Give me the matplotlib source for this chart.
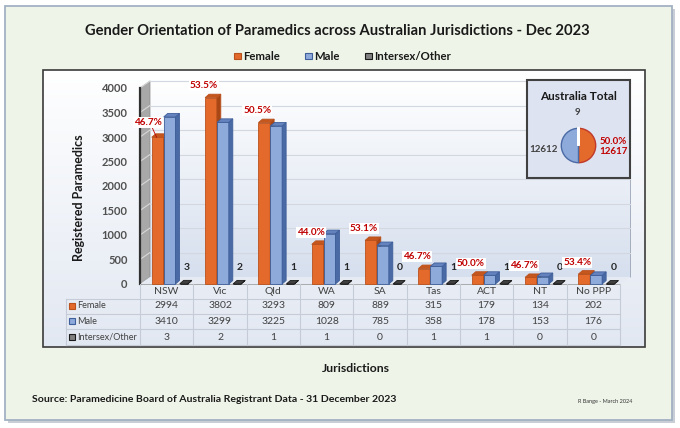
import numpy as np
import matplotlib
matplotlib.use("Agg")
import matplotlib.pyplot as plt
from matplotlib.patches import Polygon, Rectangle
from matplotlib.colors import LinearSegmentedColormap

# data
jurisdictions = ["NSW", "Vic", "Qld", "WA", "SA", "Tas", "ACT", "NT", "No PPP"]
female = [2994, 3802, 3293, 809, 889, 315, 179, 134, 202]
male = [3410, 3299, 3225, 1028, 785, 358, 178, 153, 176]
other = [3, 2, 1, 1, 0, 1, 1, 0, 0]
series_names = ["Female", "Male", "Intersex/Other"]
y_ticks = list(range(0, 4001, 500))

W, H = 680, 428
plt.rcParams["font.family"] = ["Lato", "DejaVu Sans"]

fig = plt.figure(figsize=(W / 100, H / 100), dpi=100)
fig.patch.set_facecolor("white")

# pixel overlay (origin top-left)
bg = fig.add_axes([0, 0, 1, 1], zorder=0)
bg.axis("off")


def fbox(x0, y0, x1, y1):
    return [x0 / W, 1 - y1 / H, (x1 - x0) / W, (y1 - y0) / H]


def gradient(x0, y0, x1, y1, c_top, c_bot, z):
    cm = LinearSegmentedColormap.from_list("g", [c_top, c_bot])
    bg.imshow(np.linspace(0, 1, 256).reshape(-1, 1), cmap=cm, aspect="auto",
              extent=(x0, x1, y1, y0), zorder=z, interpolation="bilinear")


# outer frame
bg.add_patch(Rectangle((8, 9), 667, 414, fc="#C9CED6", ec="none", zorder=0))
bg.add_patch(Rectangle((5, 6), 667, 414, fc="#EEF5E8", ec="#A3B1C4", lw=1.3, zorder=0.5))

# chart box
gradient(43, 70, 645, 347, "#FFFFFF", "#E2E8F2", 1)
bg.add_patch(Rectangle((43, 70), 602, 277, fc="none", ec="#3A3A3A", lw=1.2, zorder=1.1))

# main value axes: only used for scales and y tick labels
ax = fig.add_axes(fbox(140, 88, 620, 284), zorder=3)
ax.set_xlim(-0.5, len(jurisdictions) - 0.5)
ax.set_ylim(0, 4000)
ax.patch.set_alpha(0)
for s in ax.spines.values():
    s.set_visible(False)
ax.set_xticks([])
ax.set_yticks(y_ticks)
ax.tick_params(axis="y", length=0, pad=9, labelsize=8, labelcolor="#505050")
for t in ax.get_yticklabels():
    t.set_fontweight("bold")


def pix(x, y, ox=0, oy=0):
    px, py = ax.transData.transform((x, y))
    return (px + ox, H - py - oy)


DX, DY = 10, 7      # wall depth in px
BX, BY = 4, 3.5     # bar depth in px
x_lo, x_hi = -0.5, len(jurisdictions) - 0.5

# back wall
tl = pix(x_lo, 4000, DX, DY)
br = pix(x_hi, 0, DX, DY)
gradient(tl[0], tl[1], br[0], br[1], "#FFFFFF", "#D6DFEE", 1.5)
bg.add_patch(Polygon([pix(x_hi, 0, DX, DY), pix(x_hi, 4000, DX, DY)], closed=False,
                     fill=False, ec="#9AA5B5", lw=0.6, zorder=1.6))
# side wall
bg.add_patch(Polygon([pix(x_lo, 0), pix(x_lo, 4000), pix(x_lo, 4000, DX, DY),
                      pix(x_lo, 0, DX, DY)], fc="#A8A8A8", ec="#8A8A8A", lw=0.5, zorder=1.7))
bg.plot(*zip(pix(x_lo, 0), pix(x_lo, 4000)), color="#303030", lw=1.6, zorder=1.9)
# floor
bg.add_patch(Polygon([pix(x_lo, 0), pix(x_hi, 0), pix(x_hi, 0, DX, DY),
                      pix(x_lo, 0, DX, DY)], fc="#E6EBF3", ec="none", zorder=1.7))
bg.plot(*zip(pix(x_lo, 0), pix(x_hi, 0)), color="#A0A0A0", lw=0.6, zorder=1.8)
# gridlines
for v in y_ticks[1:]:
    bg.plot(*zip(pix(x_lo, v, DX, DY), pix(x_hi, v, DX, DY)), color="#D3D8E0", lw=0.8, zorder=1.8)
    bg.plot(*zip(pix(x_lo, v), pix(x_lo, v, DX, DY)), color="#D8D8D8", lw=0.8, zorder=1.8)

# bars
offsets = [-0.17, 0.055, 0.32]
widths = [0.22, 0.22, 0.15]
front_c = ["#E46A2C", "#8EAADB", "#808080"]
side_c = ["#A84616", "#4A6AA5", "#262626"]
top_c = ["#C4561E", "#6482BE", "#404040"]
edge_c = ["#B9511D", "#3F5F9A", "#1A1A1A"]
series = [female, male, other]


def bar3d(x, v, k):
    xl, xr = x - widths[k] / 2, x + widths[k] / 2
    z = 4 + 0.1 * k
    bg.add_patch(Polygon([pix(xl, 0), pix(xr, 0), pix(xr, v), pix(xl, v)],
                         fc=front_c[k], ec=edge_c[k], lw=0.6, zorder=z))
    bg.add_patch(Polygon([pix(xr, 0), pix(xr, v), pix(xr, v, BX, BY), pix(xr, 0, BX, BY)],
                         fc=side_c[k], ec=edge_c[k], lw=0.6, zorder=z))
    bg.add_patch(Polygon([pix(xl, v), pix(xr, v), pix(xr, v, BX, BY), pix(xl, v, BX, BY)],
                         fc=top_c[k], ec=edge_c[k], lw=0.6, zorder=z))


for i in range(len(jurisdictions)):
    for k in range(3):
        bar3d(i + offsets[k], series[k][i], k)
    tot = female[i] + male[i] + other[i]
    px, py = pix(i + offsets[0], female[i])
    if i == 0:
        lx, ly = px - 10, py - 15
        bg.plot([px - 1, lx + 4], [py, ly + 4], color="#C00000", lw=0.6, zorder=6)
    else:
        lx, ly = px - 7, py - 12
    bg.text(lx, ly, f"{female[i] / tot * 100:.1f}%", color="#C00000", fontsize=7.2,
            fontweight="bold", ha="center", va="center", zorder=7,
            bbox=dict(boxstyle="square,pad=0.1", fc="white", ec="none"))
    ox, oy = pix(i + offsets[2], other[i])
    bg.text(ox + 3, oy - 16, str(other[i]), fontsize=7.5, fontweight="bold",
            color="#262626", ha="center", va="center", zorder=7)

# data table
col_x = [pix(i, 0)[0] for i in range(len(jurisdictions))]
div_x = [pix(i - 0.5, 0)[0] for i in range(len(jurisdictions) + 1)]
row_y = [306, 321, 337]
for xx, name in zip(col_x, jurisdictions):
    bg.text(xx, 292, name, fontsize=7.5, color="#404040", ha="center", va="center", zorder=5)
for yy in [299, 314, 329, 345]:
    bg.plot([66, div_x[-1]], [yy, yy], color="#C5CCD8", lw=0.8, zorder=5)
for xx in div_x:
    bg.plot([xx, xx], [284, 345], color="#C5CCD8", lw=0.8, zorder=5)
bg.plot([66, 66], [299, 345], color="#C5CCD8", lw=0.8, zorder=5)
for r, (yy, name) in enumerate(zip(row_y, series_names)):
    bg.add_patch(Rectangle((69, yy - 3), 6, 6, fc=front_c[r], ec=edge_c[r], lw=0.8, zorder=6))
    bg.text(77, yy, name, fontsize=6.6, color="#404040", ha="left", va="center", zorder=6)
    for xx, v in zip(col_x, series[r]):
        bg.text(xx, yy, str(v), fontsize=7.5, color="#404040", ha="center", va="center", zorder=6)

# titles and labels
bg.text(337, 31, "Gender Orientation of Paramedics across Australian Jurisdictions - Dec 2023",
        fontsize=10.6, fontweight="bold", ha="center", va="center", color="#1A1A1A", zorder=8)
leg_x = [234, 305, 365]
for lx, name, k in zip(leg_x, series_names, range(3)):
    bg.add_patch(Rectangle((lx, 52.5), 6.5, 6.5, fc=front_c[k], ec=edge_c[k], lw=0.8, zorder=8))
    bg.text(lx + 9.5, 56, name, fontsize=8.2, fontweight="bold", ha="left", va="center",
            color="#1A1A1A", zorder=8)
bg.text(79, 198, "Registered Paramedics", rotation=90, fontsize=9, fontweight="bold",
        ha="center", va="center", color="#1A1A1A", zorder=8)
bg.text(356, 369, "Jurisdictions", fontsize=8.8, fontweight="bold", ha="center",
        va="center", color="#1A1A1A", zorder=8)
bg.text(32, 399, "Source: Paramedicine Board of Australia Registrant Data - 31 December 2023",
        fontsize=7.55, fontweight="bold", ha="left", va="center", color="#1A1A1A", zorder=8)
bg.text(605, 401, "R Bange - March 2024", fontsize=4, ha="center", va="center",
        color="#333333", zorder=8)

# Australia total inset
totals = [sum(female), sum(male), sum(other)]
bg.add_patch(Rectangle((527, 80), 103, 98, fc="#DDE3F1", ec="#404040", lw=1.5, zorder=9))
bg.text(578, 96, "Australia Total", fontsize=8.5, fontweight="bold", ha="center",
        va="center", color="#1A1A1A", zorder=10)
pax = fig.add_axes(fbox(557, 124, 600, 167), zorder=10)
wedges, _ = pax.pie(totals, colors=[front_c[0], front_c[1], "white"], startangle=90,
                    counterclock=False,
                    wedgeprops=dict(linewidth=1, edgecolor="white"))
wedges[0].set_edgecolor("#C0392B")
wedges[1].set_edgecolor("#4A6AA5")
wedges[2].set_linewidth(2)
pax.set_aspect("equal")
bg.text(577, 112, str(totals[2]), fontsize=7, fontweight="bold", color="#404040",
        ha="center", va="center", zorder=10)
bg.text(544, 149, str(totals[1]), fontsize=7, fontweight="bold", color="#404040",
        ha="center", va="center", zorder=10)
bg.text(613, 142, f"{totals[0] / sum(totals) * 100:.1f}%", fontsize=7, fontweight="bold",
        color="#C00000", ha="center", va="center", zorder=10)
bg.text(613, 151, str(totals[0]), fontsize=7, fontweight="bold", color="#C00000",
        ha="center", va="center", zorder=10)

bg.set_xlim(0, W)
bg.set_ylim(H, 0)
fig.savefig("out.png", dpi=100)
